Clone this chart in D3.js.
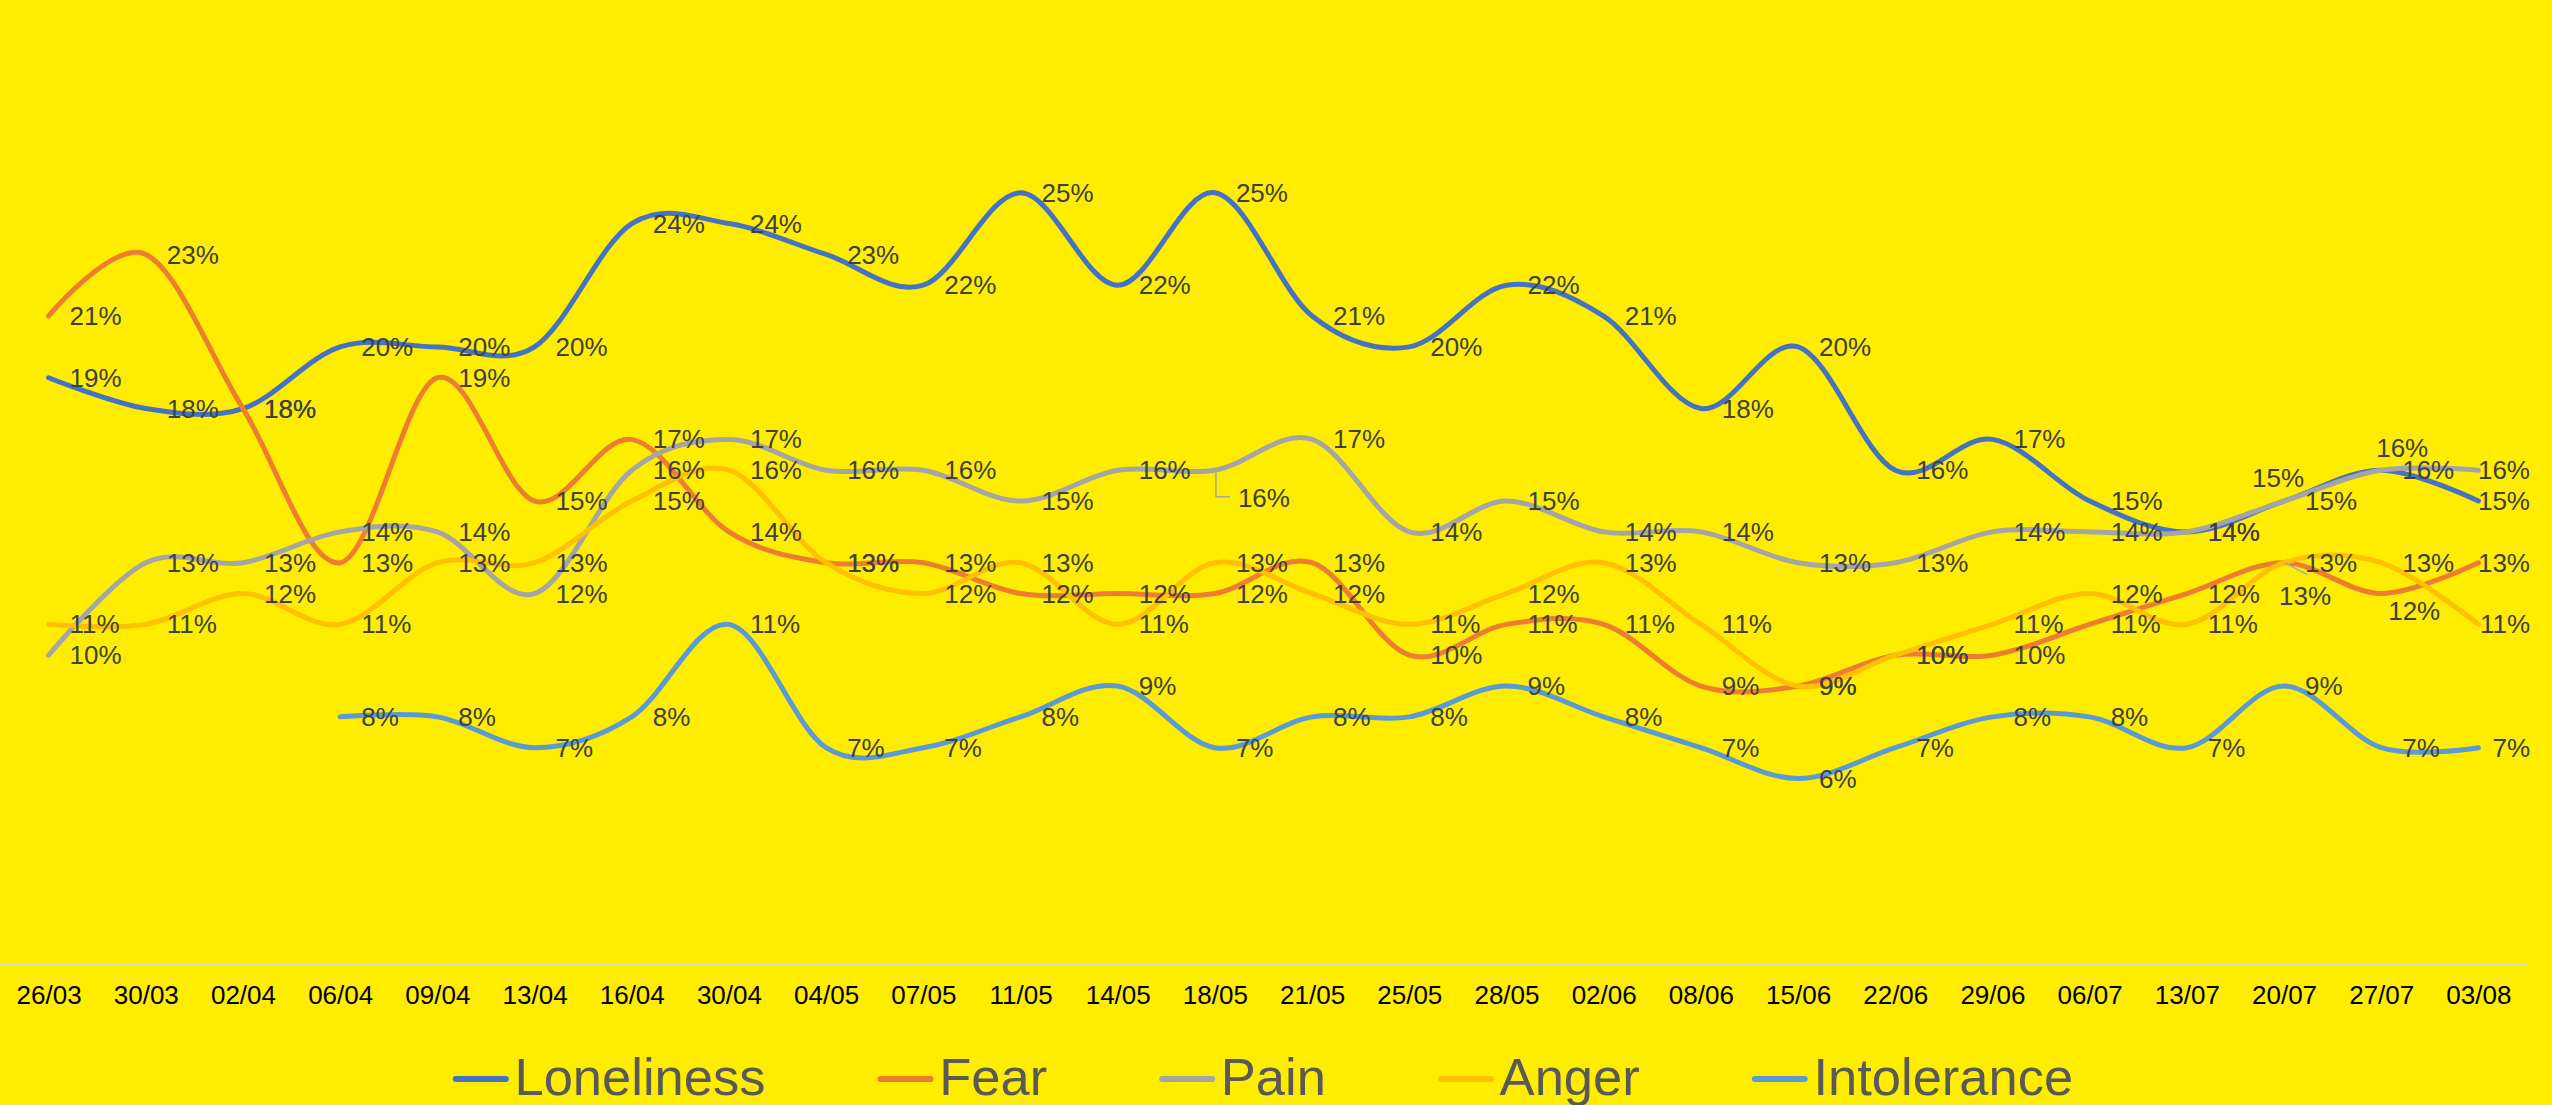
<!DOCTYPE html>
<html><head><meta charset="utf-8">
<script src="https://cdn.jsdelivr.net/npm/d3@7"></script>
<style>html,body{margin:0;padding:0;background:#FFED00;overflow:hidden}</style>
</head><body>
<svg id="chart" width="2552" height="1105"></svg>
<script>
// ---------- data ----------
const categories = ["26/03","30/03","02/04","06/04","09/04","13/04","16/04","30/04","04/05","07/05","11/05","14/05","18/05","21/05","25/05","28/05","02/06","08/06","15/06","22/06","29/06","06/07","13/07","20/07","27/07","03/08"];
const loneliness  = [19,18,18,20,20,20,24,24,23,22,25,22,25,21,20,22,21,18,20,16,17,15,14,15,16,15];
const fear        = [21,23,18,13,19,15,17,14,13,13,12,12,12,13,10,11,11,9,9,10,10,11,12,13,12,13];
const pain        = [10,13,13,14,14,12,16,17,16,16,15,16,16,17,14,15,14,14,13,13,14,14,14,15,16,16];
const anger       = [11,11,12,11,13,13,15,16,13,12,13,11,13,12,11,12,13,11,9,10,11,12,11,13,13,11];
const intolerance = [null,null,null,8,8,7,8,11,7,7,8,9,7,8,8,9,8,7,6,7,8,8,7,9,7,7];
const seriesNames = ["Loneliness","Fear","Pain","Anger","Intolerance"];
const seriesValues = [loneliness, fear, pain, anger, intolerance];
const seriesColors = ["#4472C4","#ED7D31","#A5A5A5","#FFC000","#5B9BD5"];
const yDomain = [0, 30];
// manually moved data labels (as in the original chart)
const labelMoves = [
  {series:"Pain",       cat:"18/05", dx:2,   dy:28,   leader:"elbow"},
  {series:"Loneliness", cat:"20/07", dx:-53, dy:-23,  leader:null},
  {series:"Fear",       cat:"20/07", dx:-26, dy:33,   leader:"straight"},
  {series:"Loneliness", cat:"27/07", dx:-26, dy:-22.5,leader:null},
  {series:"Fear",       cat:"27/07", dx:-14, dy:17.5, leader:null}
];

// ---------- layout ----------
const svg = d3.select("#chart");
const W = 2552, H = 1105;
svg.append("rect").attr("width", W).attr("height", H).attr("fill", "#FFED00");

const x = d3.scalePoint().domain(categories).range([0, 2527]).padding(0.5);
const y = d3.scaleLinear().domain(yDomain).range([963.5, 38.6]);

// x axis
const xAxis = d3.axisBottom(x).tickSize(0).tickPadding(22);
const gx = svg.append("g").attr("transform", `translate(0,${y(0)})`).call(xAxis);
gx.select(".domain").attr("stroke", "#D9D9D9").attr("stroke-width", 2);
gx.selectAll("text").attr("font-family", "'Liberation Sans', Arial, sans-serif")
  .attr("font-size", 26).attr("fill", "#000");

// lines
const line = d3.line()
  .defined(d => d.v != null)
  .x(d => x(d.c))
  .y(d => y(d.v))
  .curve(d3.curveCatmullRom.alpha(0));

const series = seriesNames.map((name, i) => ({
  name, color: seriesColors[i],
  pts: categories.map((c, j) => ({c, v: seriesValues[i][j], name}))
}));

svg.append("g").selectAll("path").data(series).join("path")
  .attr("d", s => line(s.pts))
  .attr("fill", "none")
  .attr("stroke", s => s.color)
  .attr("stroke-width", 5)
  .attr("stroke-linecap", "round")
  .attr("stroke-linejoin", "round");

// data labels
const gl = svg.append("g");
const gLeader = gl.append("g");
const labelFont = "'Liberation Sans', Arial, sans-serif";
series.forEach(s => {
  s.pts.forEach(p => {
    if (p.v == null) return;
    const mv = labelMoves.find(m => m.series === s.name && m.cat === p.c);
    let lx = x(p.c) + 21, ly = y(p.v);
    if (mv) { lx += mv.dx; ly += mv.dy; }
    const t = gl.append("text")
      .attr("x", lx).attr("y", ly).attr("dy", "0.35em")
      .attr("font-family", labelFont).attr("font-size", 26)
      .attr("fill", "#404040")
      .text(p.v + "%");
    const w = t.node().getComputedTextLength();
    if (lx + w > 2530) { lx = 2530 - w; t.attr("x", lx); }
    if (mv && mv.leader === "elbow") {
      const px = x(p.c) + 1, py = y(p.v) + 2;
      gLeader.append("path")
        .attr("d", `M${px},${py}V${ly - 1.5}H${lx - 8}`)
        .attr("fill", "none").attr("stroke", "#A5A5A5").attr("stroke-width", 1.5);
    } else if (mv && mv.leader === "straight") {
      gLeader.append("path")
        .attr("d", `M${x(p.c) + 1},${y(p.v)}L${lx + w / 2 + 2},${ly - 21}`)
        .attr("fill", "none").attr("stroke", "#9AA8C8").attr("stroke-width", 1.5);
    }
  });
});

// legend
const lg = svg.append("g");
const items = [];
let cursor = 0;
series.forEach(s => {
  const g = lg.append("g");
  g.append("line").attr("x1", 3).attr("x2", 53).attr("y1", 0).attr("y2", 0)
    .attr("stroke", s.color).attr("stroke-width", 6).attr("stroke-linecap", "round");
  const t = g.append("text").attr("x", 61.7).attr("y", 16)
    .attr("font-family", labelFont).attr("font-size", 52.5).attr("fill", "#595959")
    .text(s.name);
  const w = 61.7 + t.node().getComputedTextLength();
  items.push({g, w});
});
const gap = 112;
const total = d3.sum(items, d => d.w) + gap * (items.length - 1);
let startX = 1263 - total / 2;
items.forEach(it => {
  it.g.attr("transform", `translate(${startX},1079)`);
  startX += it.w + gap;
});
</script>
</body></html>
